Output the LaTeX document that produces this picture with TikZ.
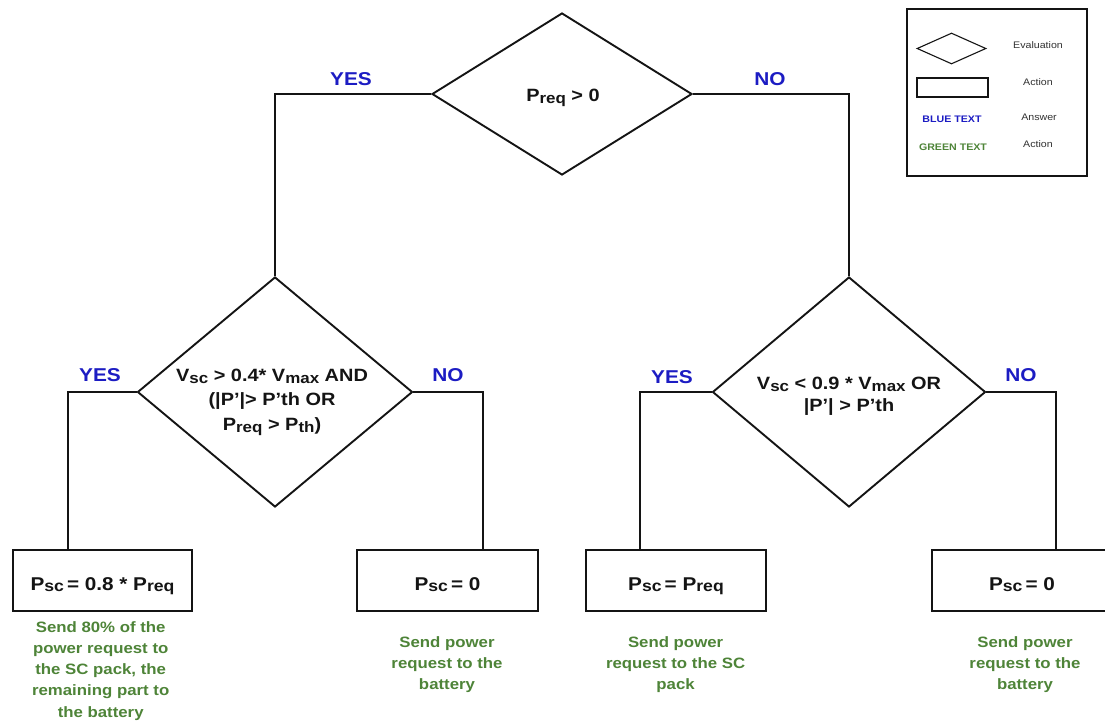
\documentclass[tikz,border=0pt]{standalone}
\usepackage{fontspec}
\usepackage{graphicx}
\setmainfont[FakeStretch=1.12]{Liberation Sans}
\usetikzlibrary{shapes.geometric}
\definecolor{ansblue}{RGB}{28,28,195}
\definecolor{actgreen}{RGB}{78,132,56}
\definecolor{lgray}{RGB}{50,50,50}
\definecolor{ink}{RGB}{20,20,20}
\newcommand\lo[1]{\raisebox{-0.1em}{\scalebox{0.85}{#1}}}
\tikzset{
  conn/.style={line width=2pt, ink},
  dia/.style={diamond, draw=ink, line width=1.9pt, inner sep=0pt},
  actbox/.style={rectangle, draw=ink, line width=2pt, inner sep=0pt,
    minimum height=61pt, text height=19pt, text depth=0pt, text=ink,
    font=\fontsize{18.5}{22}\selectfont\bfseries},
  evtxt/.style={align=center, inner sep=0pt, text=ink, font=\fontsize{17.8}{24.5}\selectfont\bfseries},
  ans/.style={text=ansblue, inner sep=0pt, font=\fontsize{18.6}{22}\selectfont\bfseries},
  act/.style={text=actgreen, align=center, inner sep=0pt, anchor=north,
    font=\fontsize{15}{21.3}\selectfont\bfseries},
  legtxt/.style={text=lgray, inner sep=0pt, font=\fontsize{9.5}{11}\selectfont},
}
\begin{document}
\begin{tikzpicture}[x=1pt,y=-1pt]
\useasboundingbox (0,0) rectangle (1105,720);
\clip (0,0) rectangle (1105,720);
\fill[white] (0,0) rectangle (1105,720);

% decision nodes
\node[dia, minimum width=260pt, minimum height=162pt] (d1) at (562,94) {};
\node[evtxt] (t1) at (563,98) {P\lo{req} > 0};
\node[dia, minimum width=275pt, minimum height=230pt] (d2) at (275,392) {};
\node[evtxt] (t2) at (272,402) {V\lo{sc} > 0.4* V\lo{max} AND\\(|P’|> P’th OR\\P\lo{req} > P\lo{th})};
\node[dia, minimum width=273pt, minimum height=230pt] (d3) at (849,392) {};
\node[evtxt, font=\fontsize{17.8}{22}\selectfont\bfseries] (t3) at (849,396.5) {V\lo{sc} < 0.9 * V\lo{max} OR\\|P’| > P’th};

% action boxes
\node[actbox, minimum width=179pt] (b1) at (102.5,580.5) {P\lo{sc}\,= 0.8 * P\lo{req}};
\node[actbox, minimum width=181pt] (b2) at (447.5,580.5) {P\lo{sc}\,= 0};
\node[actbox, minimum width=180pt] (b3) at (676,580.5) {P\lo{sc}\,= P\lo{req}};
\node[actbox, minimum width=180pt] (b4) at (1022,580.5) {P\lo{sc}\,= 0};

% junction coordinates
\coordinate (j1) at (68,392);
\coordinate (j2) at (483,392);
\coordinate (j3) at (640,392);
\coordinate (j4) at (1056,392);

% connectors
\draw[conn] (d1.west) -| (d2.north);
\draw[conn] (d1.east) -| (d3.north);
\draw[conn] (d2.west) -- (j1) -- (j1 |- b1.north);
\draw[conn] (d2.east) -- (j2) -- (j2 |- b2.north);
\draw[conn] (d3.west) -- (j3) -- (j3 |- b3.north);
\draw[conn] (d3.east) -- (j4) -- (j4 |- b4.north);

% answers
\node[ans] (y1) at (351,79) {YES};
\node[ans] (n1) at (770,79) {NO};
\node[ans] (y2) at (100,375) {YES};
\node[ans] (n2) at (448,375) {NO};
\node[ans] (y3) at (672,377) {YES};
\node[ans] (n3) at (1021,375) {NO};

% action descriptions
\node[act] (g1) at (100.7,621) {Send 80\% of the\\power request to\\the SC pack, the\\remaining part to\\the battery};
\node[act] (g2) at (447,636) {Send power\\request to the\\battery};
\node[act] (g3) at (675.6,636) {Send power\\request to the SC\\pack};
\node[act] (g4) at (1025,636) {Send power\\request to the\\battery};

% legend
\node[rectangle, draw=ink, line width=1.2pt, minimum width=180pt, minimum height=167pt, inner sep=0pt] (leg) at (997,92.5) {};
\node[diamond, draw=ink, line width=1.1pt, minimum width=69pt, minimum height=31pt, inner sep=0pt] (ld) at (951.5,48.5) {};
\node[rectangle, draw=ink, line width=1.1pt, minimum width=71pt, minimum height=19pt, inner sep=0pt] (lr) at (952.5,87.5) {};
\node[legtxt] (le1) at (1038,45) {Evaluation};
\node[legtxt] (le2) at (1038,82) {Action};
\node[legtxt] (le3) at (1039,117) {Answer};
\node[legtxt] (le4) at (1038,144) {Action};
\node[inner sep=0pt, text=ansblue, font=\fontsize{9.5}{11}\selectfont\bfseries] (lb) at (952,119) {BLUE TEXT};
\node[inner sep=0pt, text=actgreen, font=\fontsize{9.5}{11}\selectfont\bfseries] (lg) at (953,147) {GREEN TEXT};
\end{tikzpicture}
\end{document}
